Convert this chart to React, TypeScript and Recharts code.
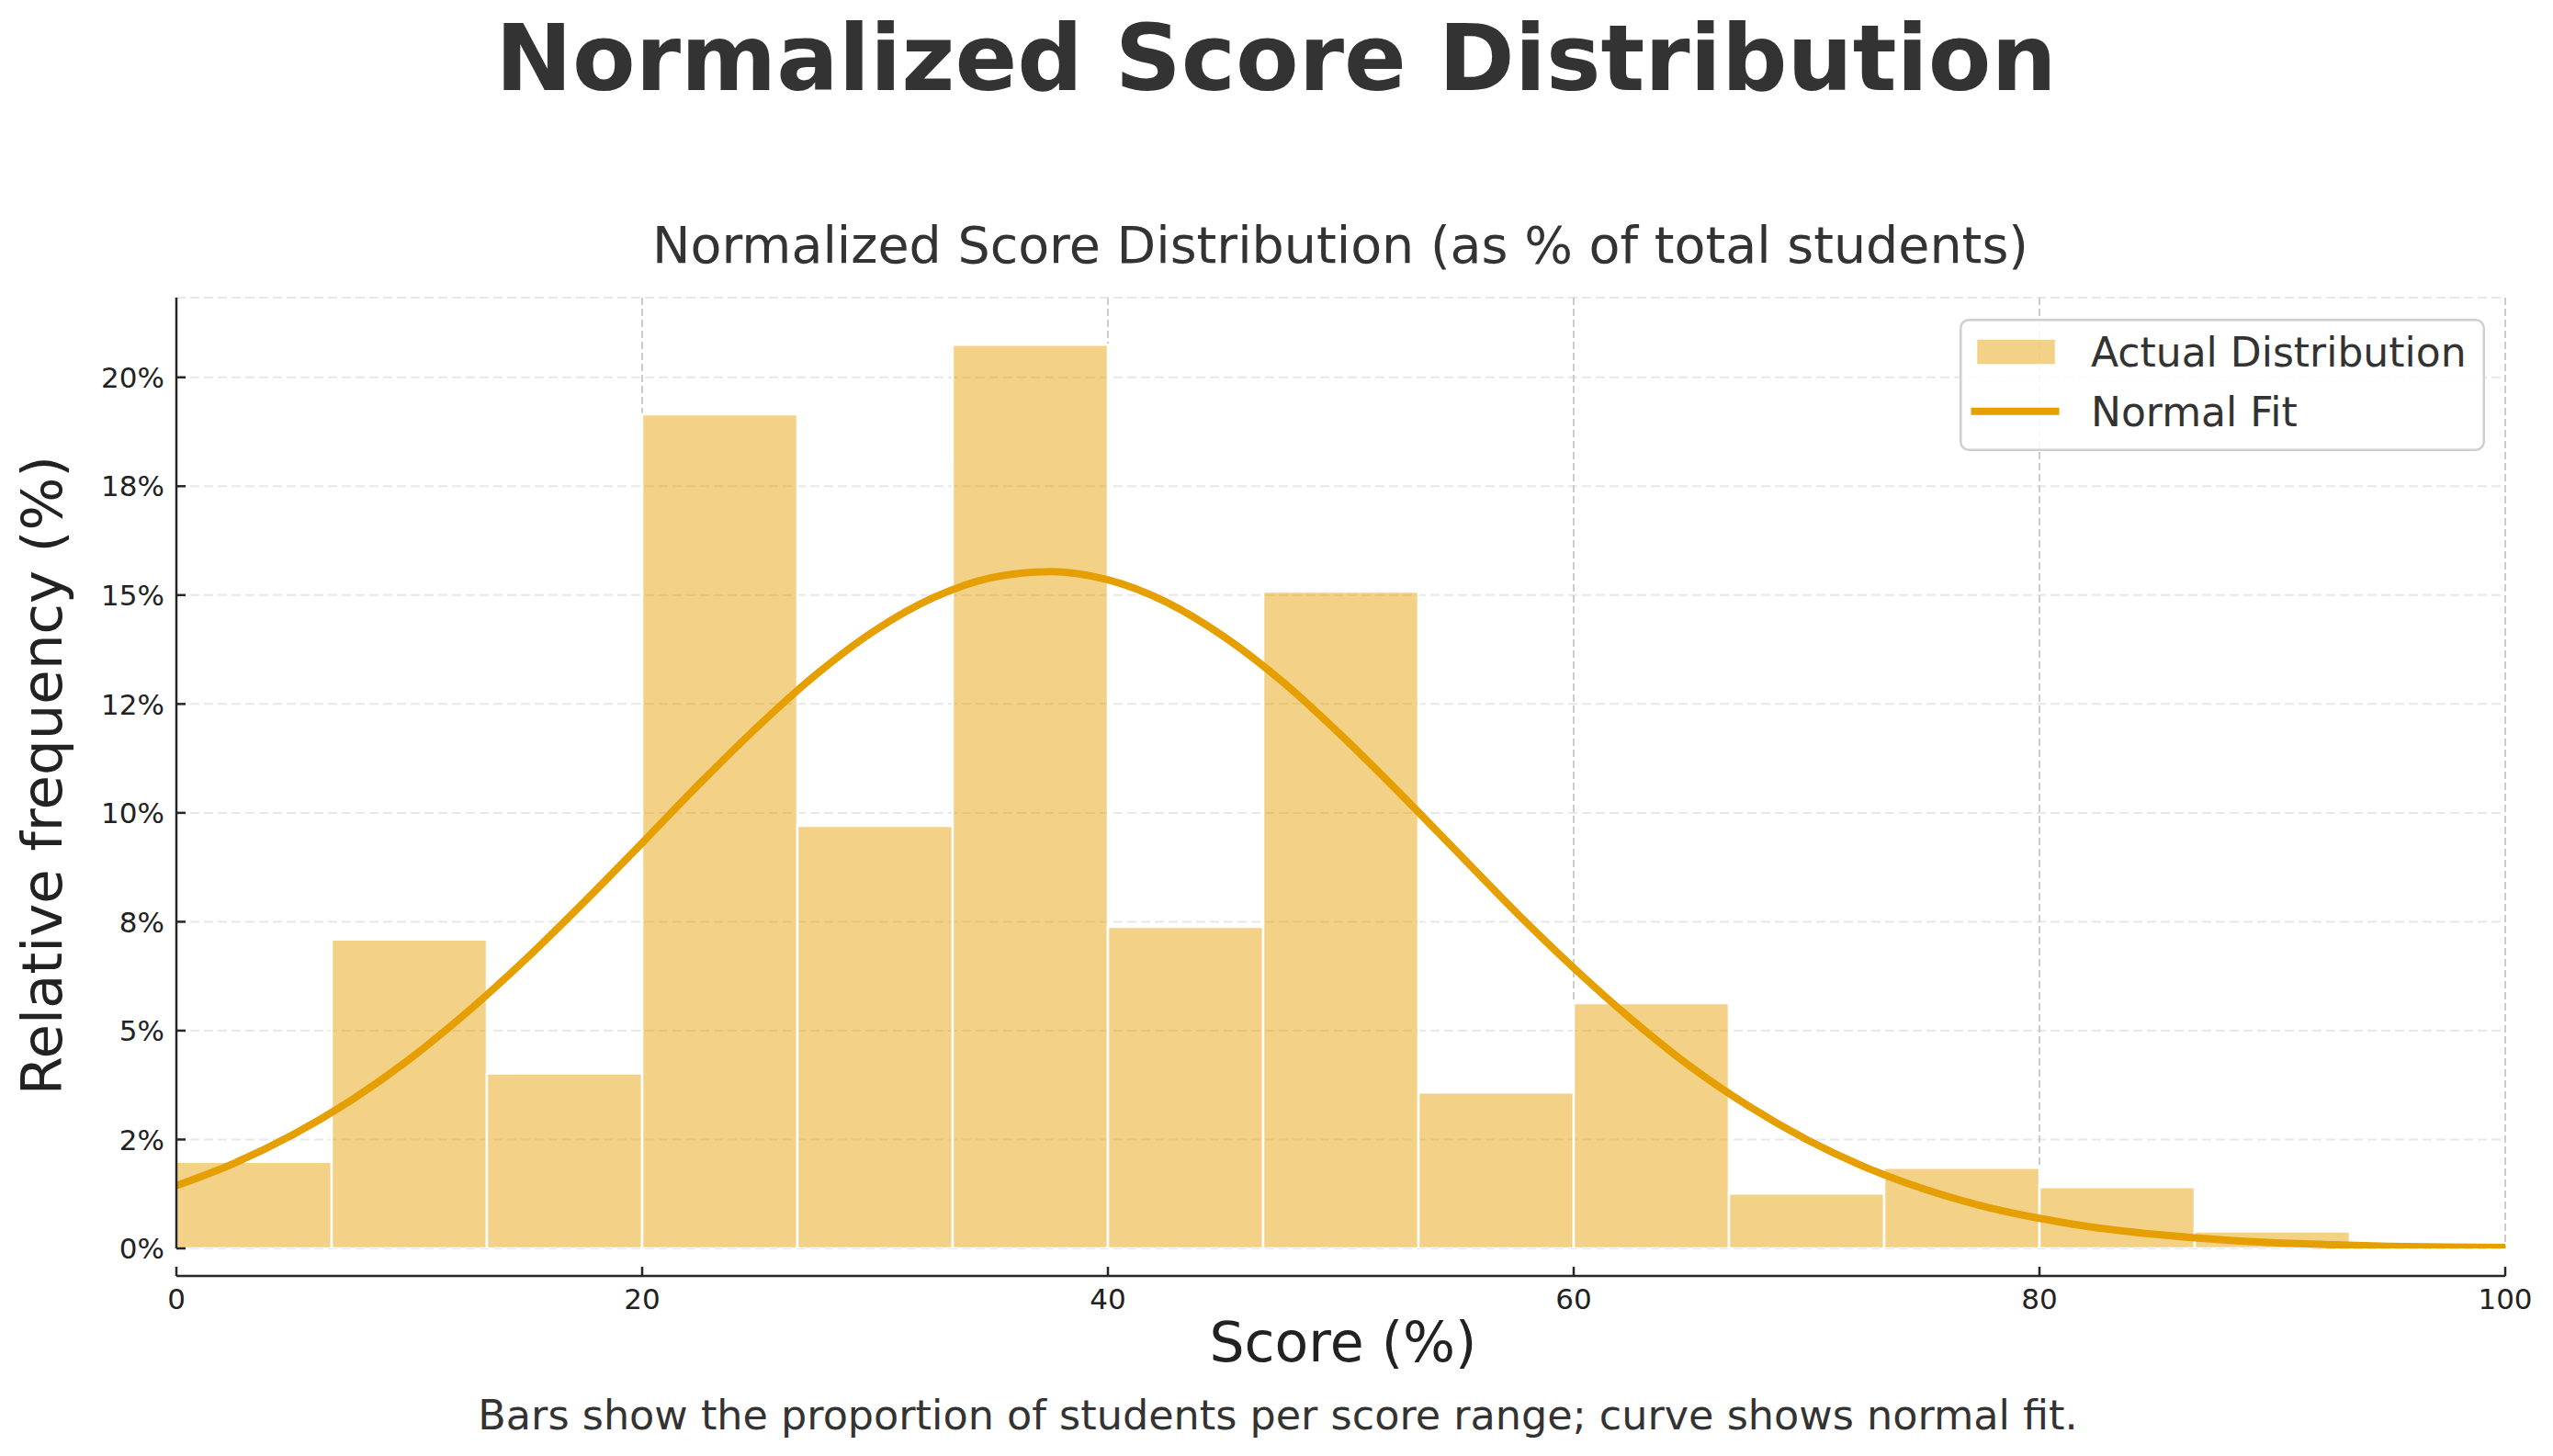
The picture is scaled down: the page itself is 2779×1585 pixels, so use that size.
import React from 'react'
import { ComposedChart, Bar, Line, XAxis, YAxis, CartesianGrid, Legend } from 'recharts'

// histogram bins (score ranges of width 100/15) and share of students per bin, in %
const binLabels = ['0-6.7', '6.7-13.3', '13.3-20', '20-26.7', '26.7-33.3', '33.3-40', '40-46.7', '46.7-53.3',
  '53.3-60', '60-66.7', '66.7-73.3', '73.3-80', '80-86.7', '86.7-93.3', '93.3-100']
const binShares = [1.99, 7.09, 4.02, 19.15, 9.7, 20.75, 7.38, 15.08, 3.58, 5.63, 1.26, 1.85, 1.41, 0.39, 0]

// normal fit curve
const fitX = [0, 2.5, 5, 7.5, 10, 12.5, 15, 17.5, 20, 22.5, 25, 27.5, 30, 32.5, 35, 37.5, 40, 42.5, 45, 47.5, 50,
  52.5, 55, 57.5, 60, 62.5, 65, 67.5, 70, 72.5, 75, 77.5, 80, 82.5, 85, 87.5, 90, 92.5, 95, 97.5, 100]
const fitY = [1.44, 1.96, 2.61, 3.4, 4.34, 5.43, 6.64, 7.95, 9.31, 10.69, 12.0, 13.19, 14.19, 14.94, 15.4, 15.54, 15.35,
  14.84, 14.04, 13.01, 11.79, 10.47, 9.1, 7.73, 6.44, 5.25, 4.18, 3.27, 2.5, 1.87, 1.37, 0.98, 0.69, 0.47, 0.32, 0.21,
  0.13, 0.085, 0.05, 0.03, 0.02]

const xTicks = [0, 20, 40, 60, 80, 100]
const yTicks = [0, 2.5, 5, 7.5, 10, 12.5, 15, 17.5, 20]
const yTickLabels = ['0%', '2%', '5%', '8%', '10%', '12%', '15%', '18%', '20%']

const barData = binLabels.map((bin, i) => ({ bin, share: binShares[i] }))
const fitData = fitX.map((x, i) => ({ x, y: fitY[i] }))

const FONT = '"DejaVu Sans", sans-serif'
const ORANGE = '#E69F00'
const W = 2779
const H = 1585
const M = { top: 324, right: 52, bottom: 225, left: 191 }

function XTick(props: any) {
  const { x, y, payload } = props
  return (
    <g>
      <line x1={x} y1={y} x2={x} y2={y - 10} stroke="#262626" strokeWidth={2.5} />
      <text x={x} y={y + 36} textAnchor="middle" fontFamily={FONT} fontSize={31} fill="#222">{payload.value}</text>
    </g>
  )
}

function YTick(props: any) {
  const { x, y, payload } = props
  const i = yTicks.indexOf(payload.value)
  return (
    <g>
      <line x1={x} y1={y} x2={x + 10} y2={y} stroke="#262626" strokeWidth={2.5} />
      <text x={x - 13} y={y} dy="0.36em" textAnchor="end" fontFamily={FONT} fontSize={31} fill="#222">{yTickLabels[i]}</text>
    </g>
  )
}

function LegendBox() {
  return (
    <svg width={572} height={144} style={{ display: 'block' }}>
      <rect x={1.25} y={1.25} width={569.5} height={141.5} rx={9} fill="#fff" fillOpacity={0.85} stroke="#cfcfcf" strokeWidth={2.5} />
      <rect x={18.5} y={22} width={86} height={28} fill={ORANGE} fillOpacity={0.47} stroke="#fff" strokeWidth={1.5} />
      <text x={143} y={52} fontFamily={FONT} fontSize={44} fill="#333">Actual Distribution</text>
      <line x1={12.5} y1={100.7} x2={108.5} y2={100.7} stroke={ORANGE} strokeWidth={8} />
      <text x={143} y={117} fontFamily={FONT} fontSize={44} fill="#333">Normal Fit</text>
    </svg>
  )
}

export default function App() {
  return (
    <div style={{ position: 'absolute', left: 0, top: 0, width: W, height: H, background: '#fff' }}>
      <ComposedChart width={W} height={H} data={barData} margin={M} barCategoryGap={0} barGap={0}>
        <CartesianGrid vertical={false} stroke="#e8e8e8" strokeDasharray="10 5" strokeWidth={2} xAxisId="num" />
        <CartesianGrid horizontal={false} stroke="#cccccc" strokeDasharray="8 4" strokeWidth={2} xAxisId="num" />
        <XAxis xAxisId="bins" type="category" dataKey="bin" hide padding={{ left: 0, right: 0 }} />
        <XAxis
          xAxisId="num"
          type="number"
          dataKey="x"
          domain={[0, 100]}
          ticks={xTicks}
          interval={0}
          allowDataOverflow
          height={1}
          tickSize={0}
          tickMargin={0}
          tick={XTick}
          axisLine={{ stroke: '#262626', strokeWidth: 2.5 }}
        />
        <YAxis
          type="number"
          domain={[0, 21.83]}
          ticks={yTicks}
          interval={0}
          allowDataOverflow
          width={1}
          tickSize={0}
          tickMargin={0}
          tick={YTick}
          axisLine={{ stroke: '#262626', strokeWidth: 2.5 }}
        />
        <Bar
          xAxisId="bins"
          dataKey="share"
          name="Actual Distribution"
          fill={ORANGE}
          fillOpacity={0.47}
          stroke="#fff"
          strokeWidth={2.5}
          isAnimationActive={false}
        />
        <Line
          xAxisId="num"
          data={fitData}
          dataKey="y"
          name="Normal Fit"
          type="monotone"
          stroke={ORANGE}
          strokeWidth={8}
          dot={false}
          activeDot={false}
          isAnimationActive={false}
        />
        <Legend
          layout="vertical"
          align="center"
          verticalAlign="middle"
          content={LegendBox}
          wrapperStyle={{ left: 2133, top: 347, width: 572, height: 144 }}
        />
      </ComposedChart>
      <svg width={W} height={H} style={{ position: 'absolute', left: 0, top: 0, pointerEvents: 'none' }}>
        <text x={1389} y={98} textAnchor="middle" fontFamily={FONT} fontWeight="bold" fontSize={100} fill="#333">
          Normalized Score Distribution
        </text>
        <text x={1459} y={286} textAnchor="middle" fontFamily={FONT} fontSize={55.5} fill="#333">
          Normalized Score Distribution (as % of total students)
        </text>
        <text x={1462} y={1482} textAnchor="middle" fontFamily={FONT} fontSize={60} fill="#222">
          Score (%)
        </text>
        <text x={67} y={844} textAnchor="middle" transform="rotate(-90 67 844)" fontFamily={FONT} fontSize={61} fill="#222">
          Relative frequency (%)
        </text>
        <text x={1391} y={1556} textAnchor="middle" fontFamily={FONT} fontSize={44.5} fill="#333">
          Bars show the proportion of students per score range; curve shows normal fit.
        </text>
      </svg>
    </div>
  )
}
